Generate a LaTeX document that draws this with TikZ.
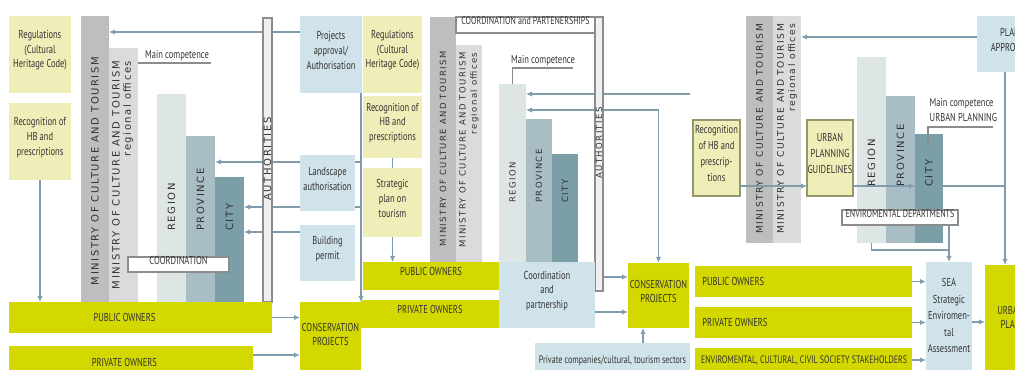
\documentclass[tikz,border=0pt]{standalone}
\usepackage{fontspec}
\setmainfont{PT Sans}[FakeStretch=0.74]
\newfontfamily\barfont{DejaVu Sans}[LetterSpace=16]
\usetikzlibrary{fit,arrows.meta,calc}
\pgfdeclarelayer{bg}
\pgfsetlayers{bg,main}

\definecolor{paleY}{RGB}{240,238,184}
\definecolor{limeY}{RGB}{211,216,0}
\definecolor{paleB}{RGB}{208,227,234}
\definecolor{minG}{RGB}{190,190,190}
\definecolor{offG}{RGB}{219,219,219}
\definecolor{regC}{RGB}{222,230,229}
\definecolor{proC}{RGB}{169,190,196}
\definecolor{citC}{RGB}{124,158,167}
\definecolor{arrC}{RGB}{128,155,172}
\definecolor{txtC}{RGB}{50,50,50}
\definecolor{edgeC}{RGB}{140,140,140}
\definecolor{oliveC}{RGB}{150,150,110}

\begin{document}
\begin{tikzpicture}[x=0.75pt,y=-0.75pt,
  every node/.style={text=txtC, font=\fontsize{8.6}{11}\selectfont},
  small/.style={font=\fontsize{8.1}{10}\selectfont},
  blk/.style={inner sep=0pt, outer sep=0pt, draw=none},
  yl/.style={blk, fill=paleY, align=center},
  ylb/.style={yl, draw=oliveC, line width=0.8pt},
  lime/.style={blk, fill=limeY, align=center},
  lb/.style={blk, fill=paleB, align=center},
  ministry/.style={blk, fill=minG},
  offices/.style={blk, fill=offG},
  regionbar/.style={blk, fill=regC},
  provbar/.style={blk, fill=proC},
  citybar/.style={blk, fill=citC},
  authbar/.style={blk, fill=black!6, draw=edgeC, line width=0.8pt},
  tagbox/.style={blk, fill=white, draw=edgeC, line width=0.8pt, align=center},
  bartxt/.style={rotate=90, inner sep=0pt, text=txtC, font=\barfont\fontsize{#1}{8.4}\selectfont},
  bartxt/.default=7.5,
  conn/.style={draw=arrC, line width=0.9pt},
  arr/.style={conn, -{Latex[length=4.5pt,width=4pt]}},
  rule/.style={draw=edgeC, line width=0.8pt}
]
\useasboundingbox (0,0) rectangle (1015,370);
\clip (0,0) rectangle (1015,370);

% ---------- Panel 1: protection of cultural heritage ----------
\node[yl, fit={(9,16)(71,93)}] (reg1) {Regulations\\(Cultural\\Heritage Code)};
\node[yl, fit={(9,103)(71,180)}] (rec1) {Recognition of\\HB and\\prescriptions};
\node[ministry, fit={(81,16)(109,302)}] (min1) {};
\node[offices, fit={(109,48)(138,302)}] (off1) {};
\node[regionbar, fit={(157,94)(186,302)}] (regn1) {};
\node[provbar, fit={(186,136)(215,302)}] (prov1) {};
\node[citybar, fit={(215,177)(244,302)}] (city1) {};
\node[bartxt] at (95,171) {MINISTRY OF CULTURE AND TOURISM};
\node[bartxt, align=right] at (122.5,175) {MINISTRY OF CULTURE AND TOURISM\\regional offices};
\node[bartxt, anchor=west] at (171.5,231) {REGION};
\node[bartxt, anchor=west] at (200.5,231) {PROVINCE};
\node[bartxt, anchor=west] at (229.5,231) {CITY};
\node[tagbox, fit={(128,257)(229,272)}] (coord1) {COORDINATION};
\node[authbar, fit={(263,18)(272,302)}] (auth1) {};
\node[bartxt] at (267.5,159) {AUTHORITIES};
\node (mc1) at (177,56) {Main competence};
\coordinate (mc1e) at (211,63);
\node[lb, fit={(300,16)(362,93)}] (proj1) {Projects\\approval/\\Authorisation};
\node[lb, fit={(300,155)(355,211)}] (land1) {Landscape\\authorisation};
\node[lb, fit={(300,225)(355,281)}] (build1) {Building\\permit};
\node[lime, fit={(9,302)(272,333)}, label={[xshift=-12pt]center:PUBLIC OWNERS}] (pub1) {};
\node[lime, fit={(9,346)(253,378)}, label={[xshift=-5pt]center:PRIVATE OWNERS}] (priv1) {};
\node[lime, fit={(300,302)(361,375)}] (cons1) {CONSERVATION\\PROJECTS};

% ---------- Panel 2: enhancement and tourism ----------
\node[yl, fit={(363,16)(422,93)}] (reg2) {Regulations\\(Cultural\\Heritage Code)};
\node[yl, fit={(363,96)(422,158)}] (rec2) {Recognition of\\HB and\\prescriptions};
\node[yl, fit={(363,168)(422,237)}] (strat2) {Strategic\\plan on\\tourism};
\node[lime, fit={(363,262)(499,290)}] (pub2) {PUBLIC OWNERS};
\node[lime, fit={(361,300)(499,328)}] (priv2) {PRIVATE OWNERS};
\node[ministry, fit={(430,17)(456,262)}] (min2) {};
\node[offices, fit={(456,45)(482,262)}] (off2) {};
\node[tagbox, small, fit={(456,17)(595,33)}] (cp2) {COORDINATION and PARTENERSHIPS};
\node[authbar, fit={(595,17)(603,291)}] (auth2) {};
\node[bartxt=6.4] at (599,143) {AUTHORITIES};
\node[regionbar, fit={(499,84)(526,262)}] (regn2) {};
\node[provbar, fit={(526,119)(552,262)}] (prov2) {};
\node[citybar, fit={(552,154)(578,262)}] (city2) {};
\node[bartxt=6.4] at (443,149) {MINISTRY OF CULTURE AND TOURISM};
\node[bartxt=6.4, align=right] at (469,150) {MINISTRY OF CULTURE AND TOURISM\\regional offices};
\node[bartxt=6.4, anchor=west] at (512.5,203) {REGION};
\node[bartxt=6.4, anchor=west] at (539,203) {PROVINCE};
\node[bartxt=6.4, anchor=west] at (565,203) {CITY};
\node (mc2) at (543,61) {Main competence};
\coordinate (mc2e) at (573,68);
\node[lb, fit={(499,262)(595,328)}] (coop2) {Coordination\\and\\partnership};
\node[lime, fit={(628,263)(689,328)}] (cons2) {CONSERVATION\\PROJECTS};
\node[lb, fit={(535,343)(690,378)}, label={[small]center:Private companies/cultural, tourism sectors}] (comp2) {};
\coordinate (in2) at (690,94);

% ---------- Panel 3: urban planning ----------
\node[ministry, fit={(746,16)(773,243)}] (min3) {};
\node[offices, fit={(773,16)(801,243)}] (off3) {};
\node[bartxt=6.9] at (759.5,129) {MINISTRY OF CULTURE AND TOURISM};
\node[bartxt=6.9, align=right] at (787,129) {MINISTRY OF CULTURE AND TOURISM\\regional offices};
\node[ylb, fit={(693,120)(740,196)}, font=\fontsize{8.6}{12}\selectfont] (rec3) {Recognition\\of HB and\\prescrip-\\tions};
\node[ylb, fit={(807,120)(853,196)}, font=\fontsize{8.6}{12}\selectfont] (upg3) {URBAN\\PLANNING\\GUIDELINES};
\node[regionbar, fit={(857,57)(886,243)}] (regn3) {};
\node[provbar, fit={(886,96)(915,243)}] (prov3) {};
\node[citybar, fit={(915,134)(943,243)}] (city3) {};
\node[bartxt, anchor=west] at (871.5,187) {REGION};
\node[bartxt, anchor=west] at (900.5,187) {PROVINCE};
\node[bartxt, anchor=west] at (929,187) {CITY};
\node[tagbox, small, fit={(842,210)(958,225)}] (env3) {ENVIROMENTAL DEPARTMENTS};
\node[align=left, anchor=west] (mc3) at (925,110) {Main competence\\URBAN PLANNING};
\node[lb, fit={(977,16)(1043,72)}] (plan3) {PLAN\\APPROVAL};
\node[lime, fit={(695,266)(912,297)}, label={[anchor=west, xshift=2pt]west:PUBLIC OWNERS}] (pub3) {};
\node[lime, fit={(695,307)(912,338)}, label={[anchor=west, xshift=2pt]west:PRIVATE OWNERS}] (priv3) {};
\node[lime, fit={(695,348)(912,372)}, label={[small, anchor=west, xshift=1pt]west:ENVIROMENTAL, CULTURAL, CIVIL SOCIETY STAKEHOLDERS}] (stake3) {};
\node[lb, fit={(926,262)(972,378)}, font=\fontsize{8.6}{12.4}\selectfont] (sea3) {SEA\\Strategic\\Enviromen-\\tal\\Assessment};
\node[lime, fit={(985,265)(1036,378)}] (urb3) {URBAN\\PLAN};

% junction points of the connectors
\coordinate (v1) at ($(proj1.south east)+(-1,0)$);
\coordinate (j1) at (v1 |- 0,162);
\coordinate (j2) at (v1 |- 0,207);
\coordinate (j3) at (build1.west |- 0,232);
\coordinate (p1) at (proj1.west |- 0,32);
\coordinate (pv1) at (priv1.east |- 0,355);
\coordinate (c2a) at (cons2.north |- 0,110);
\coordinate (up2) at (643,343);
\coordinate (p3) at (plan3.west |- 0,37);
\coordinate (g3) at (rec3.east |- 0,186);
\coordinate (v3) at (1005,72);
\coordinate (h3) at (v3 |- g3);
\coordinate (e3) at (sea3.north |- 0,250);

\begin{pgfonlayer}{bg}
  % panel 1
  \draw[arr] (p1) -- (min1.east |- p1);
  \draw[rule] (off1.east |- mc1e) -- (mc1e);
  \draw[arr] (rec1.south) -- (rec1.south |- pub1.north);
  \draw[arr] (v1) -- (v1 |- cons1.north);
  \draw[arr] (j1) -- (prov1.east |- j1);
  \draw[arr] (j2) -- (city1.east |- j2);
  \draw[arr] (j3) -- (city1.east |- j3);
  \draw[arr] (pub1.east) -- (cons1.west |- pub1.east);
  \draw[arr] (pv1) -- (cons1.west |- pv1);
  % panel 2
  \draw[conn] (rec2.south) -- (strat2.north);
  \draw[arr] (strat2.south) -- (strat2.south |- pub2.north);
  \draw[rule] (regn2.north) |- (mc2e);
  \draw[arr] (in2) -- (regn2.east |- in2);
  \draw[conn, {Latex[length=4.5pt,width=4pt]}-{Latex[length=4.5pt,width=4pt]}] (regn2.east |- c2a) -- (c2a) -- (cons2.north);
  \draw[arr] (coop2.east |- 0,277) -- (cons2.west |- 0,277);
  \draw[arr] (coop2.east |- 0,312) -- (cons2.west |- 0,312);
  \draw[arr] (up2) -- (up2 |- cons2.south);
  % panel 3
  \draw[arr] (p3) -- (off3.east |- p3);
  \draw[arr] (v3) -- (v3 |- urb3.north);
  \draw[conn] (city3.east |- h3) -- (h3);
  \draw[conn] (regn3.south) |- (e3);
  \draw[arr] (sea3.north |- env3.south) -- (sea3.north);
  \draw[arr] (pub3.east) -- (sea3.west |- pub3.east);
  \draw[arr] (priv3.east) -- (sea3.west |- priv3.east);
  \draw[arr] (stake3.east) -- (sea3.west |- stake3.east);
  \draw[arr] (sea3.east |- 0,322) -- (urb3.west |- 0,322);
\end{pgfonlayer}

% connectors running over the bars
\draw[arr] (g3) -- (upg3.west |- g3);
\draw[arr] (upg3.east |- g3) -- (city3.west |- g3);
\draw[rule] (928,145) -- (928,127) -- (993,127);
\end{tikzpicture}
\end{document}
